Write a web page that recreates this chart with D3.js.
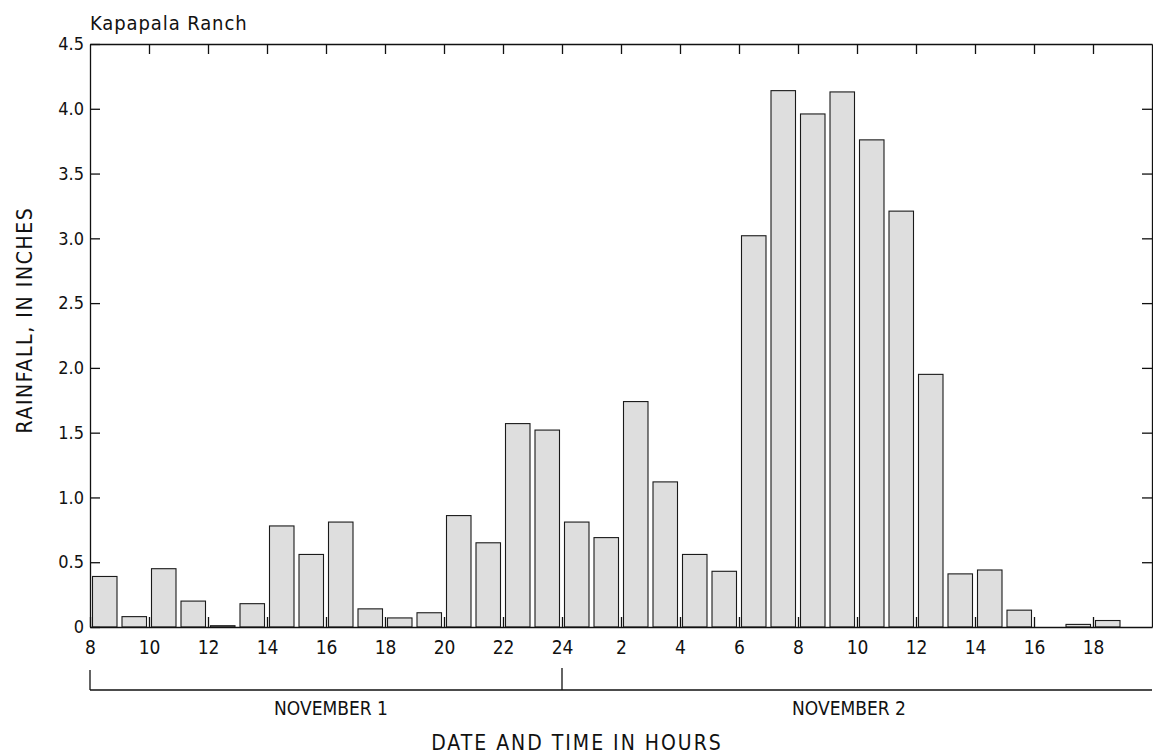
<!DOCTYPE html>
<html>
<head>
<meta charset="utf-8">
<script src="https://cdn.jsdelivr.net/npm/d3@7"></script>
<style>
  body { margin: 0; background: #fff; }
  svg text { font-family: "Liberation Sans Narrow", "DejaVu Sans Condensed", "DejaVu Sans", sans-serif; font-stretch: condensed; fill: #111; }
  .axis path, .axis line { stroke: #111; stroke-width: 1.3; }
</style>
</head>
<body>
<script>
// hour at the start of each hourly bar, Nov 1 08:00 through Nov 2 18:00
var hourStart = [8, 9, 10, 11, 12, 13, 14, 15, 16, 17, 18, 19, 20, 21, 22, 23,
                 0, 1, 2, 3, 4, 5, 6, 7, 8, 9, 10, 11, 12, 13, 14, 15, 16, 17, 18];
var rainfall = [0.39, 0.08, 0.45, 0.20, 0.01, 0.18, 0.78, 0.56, 0.81, 0.14, 0.07, 0.11, 0.86, 0.65, 1.57, 1.52,
                0.81, 0.69, 1.74, 1.12, 0.56, 0.43, 3.02, 4.14, 3.96, 4.13, 3.76, 3.21, 1.95, 0.41, 0.44, 0.13, 0, 0.02, 0.05];
var tickLabels = ["8", "10", "12", "14", "16", "18", "20", "22", "24",
                  "2", "4", "6", "8", "10", "12", "14", "16", "18"];
var yTicks = [0, 0.5, 1.0, 1.5, 2.0, 2.5, 3.0, 3.5, 4.0, 4.5];
var dayLabels = ["NOVEMBER 1", "NOVEMBER 2"];
var dayBreaks = [0, 16, 36];   // hour index where each day starts / ends

var width = 1153, height = 756;
var margin = {left: 90, top: 44, right: 1, bottom: 129};

var svg = d3.select("body").append("svg")
    .attr("width", width)
    .attr("height", height);

var x = d3.scaleLinear()
    .domain([0, hourStart.length + 1])
    .range([margin.left, width - margin.right]);

var y = d3.scaleLinear()
    .domain([0, 4.5])
    .range([height - margin.bottom, margin.top]);

var evenIdx = d3.range(0, 36, 2);

// bars
svg.append("g").selectAll("rect")
    .data(rainfall)
  .enter().append("rect")
    .attr("x", function(d, i) { return x(i) + 2.5; })
    .attr("width", x(1) - x(0) - 5)
    .attr("y", function(d) { return y(d); })
    .attr("height", function(d) { return y(0) - y(d); })
    .attr("fill", "#dedede")
    .attr("stroke", "#1a1a1a")
    .attr("stroke-width", 1.1)
    .style("display", function(d) { return d > 0 ? null : "none"; });

var fmt = function(d) { return d === 0 ? "0" : d3.format(".1f")(d); };

var axLeft = svg.append("g")
    .attr("class", "axis")
    .attr("transform", "translate(" + x(0) + ",0)")
    .call(d3.axisLeft(y).tickValues(yTicks).tickSize(-10).tickSizeOuter(0).tickPadding(6).tickFormat(fmt));

var axRight = svg.append("g")
    .attr("class", "axis")
    .attr("transform", "translate(" + x(36) + ",0)")
    .call(d3.axisRight(y).tickValues(yTicks.slice(1, -1)).tickSize(-10).tickSizeOuter(0).tickFormat(""));

var axTop = svg.append("g")
    .attr("class", "axis")
    .attr("transform", "translate(0," + y(4.5) + ")")
    .call(d3.axisTop(x).tickValues(evenIdx.slice(1)).tickSize(-10).tickSizeOuter(0).tickFormat(""));

var axBottom = svg.append("g")
    .attr("class", "axis")
    .attr("transform", "translate(0," + y(0) + ")")
    .call(d3.axisBottom(x).tickValues(evenIdx).tickSize(-10).tickSizeOuter(0).tickPadding(14)
      .tickFormat(function(d) { return tickLabels[d / 2]; }));

[axLeft, axRight, axTop, axBottom].forEach(function(g) {
  g.attr("font-family", null).attr("font-size", null);
});
axLeft.selectAll("text").style("font-size", "18px");
axBottom.selectAll("text").style("font-size", "19px");

// date bracket under the axis
var bracketY = 690;
svg.append("line")
    .attr("x1", x(0)).attr("x2", x(36))
    .attr("y1", bracketY).attr("y2", bracketY)
    .attr("stroke", "#111").attr("stroke-width", 1.3);
svg.selectAll(".brk")
    .data(dayBreaks.slice(0, 2))
  .enter().append("line")
    .attr("x1", function(d) { return x(d); })
    .attr("x2", function(d) { return x(d); })
    .attr("y1", function(d, i) { return i === 0 ? bracketY - 20 : bracketY - 22; })
    .attr("y2", bracketY)
    .attr("stroke", "#111").attr("stroke-width", 1.3);

svg.selectAll(".day")
    .data(dayLabels)
  .enter().append("text")
    .attr("x", function(d, i) { return (x(dayBreaks[i]) + x(dayBreaks[i + 1])) / 2 + (i === 0 ? 5 : -8); })
    .attr("y", 715)
    .attr("text-anchor", "middle")
    .style("font-size", "19px")
    .text(function(d) { return d; });

// titles
svg.append("text")
    .attr("x", x(0))
    .attr("y", 30)
    .style("font-size", "20px")
    .style("letter-spacing", "0.9px")
    .text("Kapapala Ranch");

svg.append("text")
    .attr("x", 577)
    .attr("y", 750)
    .attr("text-anchor", "middle")
    .style("font-size", "21px")
    .style("letter-spacing", "2px")
    .text("DATE AND TIME IN HOURS");

svg.append("text")
    .attr("transform", "translate(32,320) rotate(-90)")
    .attr("text-anchor", "middle")
    .style("font-size", "21px")
    .style("letter-spacing", "1.6px")
    .text("RAINFALL, IN INCHES");
</script>
</body>
</html>
